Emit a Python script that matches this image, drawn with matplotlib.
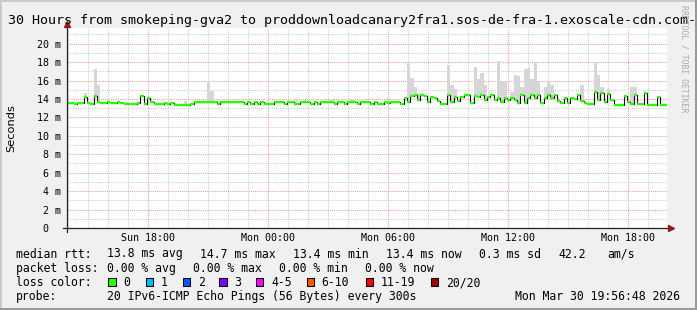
import matplotlib
matplotlib.use('Agg')
import matplotlib.pyplot as plt
import matplotlib.dates as mdates
from matplotlib.patches import Rectangle
from datetime import datetime, timedelta
import numpy as np

# ---------------- data ----------------
start_time = datetime(2026, 3, 29, 13, 56, 48)
end_time = datetime(2026, 3, 30, 19, 56, 48)
step_minutes = 10

# median RTT (ms) per 10-minute step
median_ms = [
    13.6, 13.6, 13.5, 13.6, 13.6, 14.2, 13.6, 13.5, 14.3, 13.7,
    13.6, 13.6, 13.7, 13.6, 13.6, 13.7, 13.6, 13.4, 13.5, 13.5,
    13.4, 13.6, 14.3, 13.5, 14.1, 13.7, 13.4, 13.4, 13.5, 13.6,
    13.5, 13.6, 13.3, 13.3, 13.3, 13.3, 13.3, 13.5, 13.7, 13.7,
    13.7, 13.7, 13.7, 13.7, 13.7, 13.5, 13.7, 13.7, 13.7, 13.7,
    13.7, 13.7, 13.7, 13.5, 13.7, 13.5, 13.7, 13.5, 13.7, 13.5,
    13.5, 13.5, 13.7, 13.7, 13.7, 13.5, 13.7, 13.7, 13.5, 13.5,
    13.7, 13.7, 13.7, 13.5, 13.7, 13.5, 13.7, 13.7, 13.7, 13.7,
    13.5, 13.7, 13.7, 13.5, 13.7, 13.7, 13.7, 13.5, 13.7, 13.7,
    13.7, 13.5, 13.7, 13.5, 13.5, 13.7, 13.6, 13.7, 13.7, 13.7,
    13.5, 14.1, 13.7, 14.3, 14.4, 13.9, 14.4, 14.3, 13.7, 14.2,
    14.1, 13.8, 13.5, 13.5, 14.4, 13.7, 14.2, 13.8, 14.2, 14.4,
    14.4, 13.6, 14.3, 14.2, 14.4, 13.9, 14.2, 14.4, 13.9, 14.1,
    13.7, 14.1, 13.9, 14.1, 13.9, 13.6, 14.4, 13.6, 14.1, 14.4,
    14.1, 14.4, 13.6, 14.1, 14.4, 14.1, 14.4, 13.8, 13.6, 14.1,
    13.6, 14.1, 14.0, 14.4, 13.8, 13.6, 13.4, 13.4, 14.8, 13.9,
    14.7, 13.7, 14.5, 13.9, 13.3, 13.3, 13.3, 14.3, 13.7, 13.5,
    14.4, 13.5, 13.5, 14.7, 13.3, 13.3, 13.3, 14.2, 13.3, 13.3,
]

# smoke (max ping RTT, ms) at steps where it rises visibly above the median
smoke_idx = [5, 8, 9, 35, 42, 43, 68, 71, 79, 85, 96,
             102, 103, 104, 105, 114, 115, 116, 122, 123, 124, 125,
             129, 130, 131, 133, 134, 135, 136, 137, 138, 139, 140, 141,
             143, 144, 145, 154, 158, 159, 160, 162, 169, 170]
smoke_top_ms = [14.7, 17.3, 15.5, 13.8, 16.0, 14.9, 13.9, 13.9, 14.0, 13.9, 14.1,
                18.0, 16.3, 15.3, 14.6, 17.7, 15.5, 15.1, 17.5, 16.2, 16.8, 15.5,
                18.1, 16.0, 15.8, 14.8, 16.6, 16.5, 15.3, 17.3, 17.4, 16.2, 18.0, 16.0,
                15.3, 15.8, 15.5, 15.5, 18.0, 16.6, 15.3, 15.1, 15.3, 15.3]

xtick_times = [datetime(2026, 3, 29, 18, 0), datetime(2026, 3, 30, 0, 0),
               datetime(2026, 3, 30, 6, 0), datetime(2026, 3, 30, 12, 0),
               datetime(2026, 3, 30, 18, 0)]
xtick_labels = ['Sun 18:00', 'Mon 00:00', 'Mon 06:00', 'Mon 12:00', 'Mon 18:00']
ytick_values = [0, 2, 4, 6, 8, 10, 12, 14, 16, 18, 20]
ytick_labels = ['0  ', '2 m', '4 m', '6 m', '8 m', '10 m', '12 m', '14 m',
                '16 m', '18 m', '20 m']
y_max = 21.7

title = ('30 Hours from smokeping-gva2 to '
         'proddownloadcanary2fra1.sos-de-fra-1.exoscale-cdn.com-')

rtt_labels = ['median rtt:', '13.8 ms avg', '14.7 ms max', '13.4 ms min',
              '13.4 ms now', '0.3 ms sd', '42.2', 'am/s']
loss_labels = ['packet loss:', '0.00 % avg', '0.00 % max', '0.00 % min',
               '0.00 % now']
loss_color_names = ['0', '1', '2', '3', '4-5', '6-10', '11-19', '20/20']
loss_colors = ['#26ff00', '#00b8ff', '#0059ff', '#7e00ff', '#ff00ff',
               '#ff5500', '#ff0000', '#a10000']
probe_text = ['probe:', '20 IPv6-ICMP Echo Pings (56 Bytes) every 300s',
              'Mon Mar 30 19:56:48 2026']

# ---------------- layout ----------------
W, H = 697, 310
MONO = 'DejaVu Sans Mono'


def fx(x):
    return x / W


def fy(y):
    return 1 - y / H


fig = plt.figure(figsize=(W / 100, H / 100), dpi=100)
fig.patch.set_facecolor('#f0f0f0')

ax = fig.add_axes([fx(67), fy(228), 600 / W, 200 / H])
ax.set_facecolor('white')
for s in ax.spines.values():
    s.set_visible(False)

t0 = mdates.date2num(start_time)
t1 = mdates.date2num(end_time)
dt = step_minutes / (24 * 60)
tn = t0 + np.arange(len(median_ms)) * dt
med = np.array(median_ms)

ax.set_xlim(t0, t1)
ax.set_ylim(0, y_max)

# grid
ax.xaxis.set_minor_locator(mdates.HourLocator())
ax.yaxis.set_minor_locator(matplotlib.ticker.MultipleLocator(1))
ax.set_xticks(mdates.date2num(xtick_times))
ax.set_xticklabels(xtick_labels, fontfamily=MONO, fontsize=7.2)
ax.set_yticks(ytick_values)
ax.set_yticklabels(ytick_labels, fontfamily=MONO, fontsize=7.2)
ax.tick_params(which='both', length=0)
ax.tick_params(axis='x', pad=3.6)
ax.tick_params(axis='y', pad=4.3)
ax.grid(which='minor', color='#cdcdcd', linestyle=(0, (1, 1)), linewidth=0.75, zorder=0)
ax.grid(which='major', color='#e6a0a0', linestyle=(0, (1, 1)), linewidth=0.75, zorder=0)
ax.set_axisbelow(True)

# smoke
sidx = np.array(smoke_idx)
stop = np.array(smoke_top_ms)
ax.bar(tn[sidx], stop - med[sidx], bottom=med[sidx], width=dt, align='edge',
       color='#d6d6d6', linewidth=0, zorder=1)

# median line: black steps, green (loss 0) levels
xs = np.append(tn, t1)
ys = np.append(med, med[-1])
ax.step(xs, ys, where='post', color='#111111', linewidth=0.8, zorder=2)
ax.hlines(med, tn, tn + dt, colors=loss_colors[0], linewidth=1.6, zorder=3)

# axes lines with arrows
axis_col = '#222222'
arrow_col = '#8b1a1a'
ax.plot([0, 0], [-0.02, 1.0], transform=ax.transAxes, color=axis_col,
        linewidth=0.9, clip_on=False, zorder=5)
ax.plot([-0.007, 1.003], [0, 0], transform=ax.transAxes, color=axis_col,
        linewidth=0.9, clip_on=False, zorder=5)
ax.plot([0], [1.02], marker='^', markersize=4.5, color=arrow_col,
        transform=ax.transAxes, clip_on=False, zorder=6)
ax.plot([1.006], [0], marker='>', markersize=4.5, color=arrow_col,
        transform=ax.transAxes, clip_on=False, zorder=6)

# title and labels
fig.text(fx(8), fy(24), title, fontfamily=MONO, fontsize=9.6,
         ha='left', va='baseline', color='black')
fig.text(fx(11), fy(128), 'Seconds', fontfamily='DejaVu Sans', fontsize=8.2,
         rotation=90, ha='center', va='center', color='black')
fig.text(fx(684), fy(5), 'RRDTOOL / TOBI OETIKER', fontfamily=MONO,
         fontsize=5.9, rotation=270, ha='center', va='top', color='#aaaaaa')

# legend rows
lfs = 8.3
rtt_x = [16, 107.3, 200, 293.3, 386, 479.3, 558.3, 607.3]
for s, x in zip(rtt_labels, rtt_x):
    fig.text(fx(x), fy(257.5), s, fontfamily=MONO, fontsize=lfs, ha='left', va='baseline')
loss_x = [16, 107.3, 193.3, 279.3, 365]
for s, x in zip(loss_labels, loss_x):
    fig.text(fx(x), fy(271.8), s, fontfamily=MONO, fontsize=lfs, ha='left', va='baseline')
fig.text(fx(16), fy(286), 'loss color:', fontfamily=MONO, fontsize=lfs,
         ha='left', va='baseline')
box_x = [108.3, 145.7, 182.7, 219.3, 256, 306.7, 365.7, 430.7]
for name, col, x in zip(loss_color_names, loss_colors, box_x):
    fig.add_artist(Rectangle((fx(x), fy(285.7)), 7.3 / W, 7.3 / H,
                             transform=fig.transFigure, facecolor=col,
                             edgecolor='black', linewidth=0.75))
    fig.text(fx(x + 15), fy(286), name, fontfamily=MONO, fontsize=lfs,
             ha='left', va='baseline')
fig.text(fx(16), fy(300.3), probe_text[0], fontfamily=MONO, fontsize=lfs,
         ha='left', va='baseline')
fig.text(fx(107.3), fy(300.3), probe_text[1], fontfamily=MONO, fontsize=lfs,
         ha='left', va='baseline')
fig.text(fx(680), fy(300.3), probe_text[2], fontfamily=MONO, fontsize=lfs,
         ha='right', va='baseline')

# 3D frame
light, dark = '#cbcbcb', '#999999'
fig.add_artist(Rectangle((0, 1 - 2 / H), 1, 2 / H, transform=fig.transFigure,
                         facecolor=light, edgecolor='none'))
fig.add_artist(Rectangle((0, 0), 2 / W, 1, transform=fig.transFigure,
                         facecolor=light, edgecolor='none'))
fig.add_artist(Rectangle((0, 0), 1, 2 / H, transform=fig.transFigure,
                         facecolor=dark, edgecolor='none'))
fig.add_artist(Rectangle((1 - 2 / W, 0), 2 / W, 1, transform=fig.transFigure,
                         facecolor=dark, edgecolor='none'))

fig.savefig('out.png', dpi=100, facecolor=fig.get_facecolor())
